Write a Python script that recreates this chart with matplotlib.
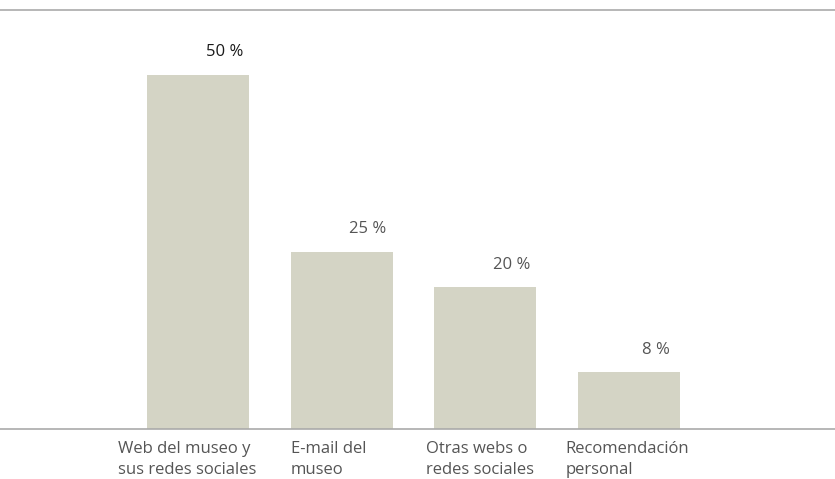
import numpy as np
import matplotlib.pyplot as plt

# datos
categorias = ['Web del museo y\nsus redes sociales', 'E-mail del\nmuseo',
              'Otras webs o\nredes sociales', 'Recomendación\npersonal']
valores = [50, 25, 20, 8]
etiquetas = ['50 %', '25 %', '20 %', '8 %']

plt.rcParams['font.family'] = ['Open Sans', 'DejaVu Sans']

fig = plt.figure(figsize=(8.35, 4.79), dpi=100)
ax = fig.add_axes([0, 50 / 479, 1, 419 / 479])

x = np.arange(len(valores))
ax.bar(x, valores, width=0.71, color='#d4d4c5')
ax.set_xlim(-1.378, 4.433)
ax.set_ylim(0, 59.2)

# etiquetas de valor
for i, (v, t) in enumerate(zip(valores, etiquetas)):
    color = '#1a1a1a' if i == 0 else '#555555'
    ax.annotate(t, (x[i], v), xytext=(19, 13.5), textcoords='offset points',
                ha='center', va='baseline', fontsize=12, color=color)

# etiquetas de categoría (alineadas a la izquierda, bajo cada barra)
desplaz = [-57.6, -36.7, -42.8, -46.0]  # en puntos respecto al centro
for i, c in enumerate(categorias):
    ax.annotate(c, (x[i], 0), xytext=(desplaz[i], -8.5),
                textcoords='offset points', ha='left', va='top',
                fontsize=12, color='#555555', linespacing=1.45,
                annotation_clip=False)

ax.set_xticks([])
ax.set_yticks([])

for s in ['left', 'right']:
    ax.spines[s].set_visible(False)
ax.spines['top'].set_color('#aaaaaa')
ax.spines['bottom'].set_color('#aaaaaa')
ax.spines['top'].set_linewidth(1.2)
ax.spines['bottom'].set_linewidth(1.2)

fig.savefig('out.png', dpi=100)
